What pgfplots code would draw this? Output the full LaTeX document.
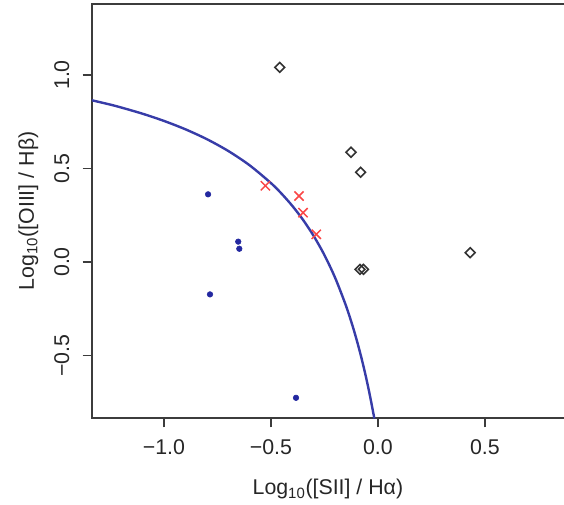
\documentclass[border=0pt]{standalone}
\usepackage{pgfplots}
\pgfplotsset{compat=1.18}
\usepackage{fontspec}
\setmainfont{Liberation Sans}
\definecolor{curveblue}{RGB}{55,60,168}
\definecolor{dotblue}{RGB}{35,40,160}
\definecolor{xred}{RGB}{250,70,70}
\definecolor{spine}{RGB}{60,60,60}
\begin{document}
\begin{tikzpicture}
\useasboundingbox (-69pt,-64.5pt) rectangle (354pt,313.5pt);
\begin{axis}[
  at={(0pt,0pt)}, anchor=south west,
  scale only axis, width=358.9pt, height=310.5pt,
  xmin=-1.3364, xmax=0.9, ymin=-0.834, ymax=1.3797,
  axis line style={spine, line width=0.9pt},
  tick style={spine, line width=0.9pt},
  tick align=outside, major tick length=7pt,
  xtick pos=bottom, ytick pos=left,
  xtick={-1,-0.5,0,0.5}, xticklabels={−1.0,−0.5,0.0,0.5},
  ytick={-0.5,0,0.5,1}, yticklabels={−0.5,0.0,0.5,1.0},
  ticklabel style={font=\fontsize{16}{19}\selectfont, text=black!85},
  xticklabel style={yshift=-5.5pt},
  yticklabel style={rotate=90, anchor=south, yshift=6.5pt},
  xlabel={Log\textsubscript{10}([SII] / Hα)},
  ylabel={Log\textsubscript{10}([OIII] / Hβ)},
  label style={font=\fontsize{16}{19}\selectfont, text=black!85},
  xlabel style={at={(axis description cs:0.493,0)}, anchor=center, yshift=-53.5pt},
  ylabel style={at={(axis description cs:-0.1330,0.5)}, anchor=center},
]
\addplot[curveblue, line width=1.8pt, smooth] coordinates {
(-1.3364,0.8648) (-1.25,0.8414) (-1.2,0.8263) (-1.1,0.7930) (-1.0,0.7545)
(-0.9,0.7098) (-0.8,0.6571) (-0.7,0.5941) (-0.6,0.5174) (-0.5,0.4220)
(-0.45,0.3649) (-0.4,0.3000) (-0.35,0.2254) (-0.3,0.1387) (-0.25,0.0368)
(-0.2,-0.0846) (-0.15,-0.2319) (-0.12,-0.3364) (-0.1,-0.4143) (-0.08,-0.5000)
(-0.06,-0.5947) (-0.04,-0.7000) (-0.02,-0.8177) (-0.017,-0.8365)
};
\addplot[only marks, mark=*, mark size=2.1pt, dotblue] coordinates {
(-0.794,0.362) (-0.653,0.109) (-0.648,0.071) (-0.785,-0.173) (-0.383,-0.726)
};
\addplot[only marks, mark=x, mark size=4.9pt, xred, mark options={line width=1.1pt}] coordinates {
(-0.526,0.408) (-0.369,0.353) (-0.350,0.264) (-0.288,0.148)
};
\addplot[only marks, mark=square, mark size=2.6pt, black!80, mark options={rotate=45, line width=1.2pt}] coordinates {
(-0.459,1.041) (-0.126,0.587) (-0.081,0.480) (-0.084,-0.039) (-0.068,-0.039) (0.431,0.050)
};
\end{axis}
\end{tikzpicture}
\end{document}
